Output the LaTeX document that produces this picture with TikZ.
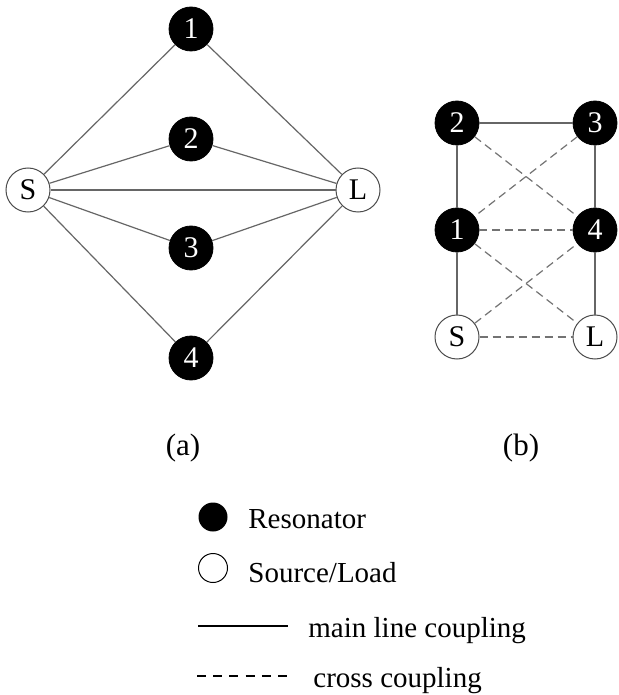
\documentclass[tikz,border=0pt]{standalone}
\usepackage{fontspec}
\setmainfont{Liberation Serif}
\usetikzlibrary{positioning}

\begin{document}
\begin{tikzpicture}[x=0.5pt, y=-0.5pt]
\tikzstyle{res} = [circle, fill=black, draw=black, text=white, minimum size=22pt,
  inner sep=0pt, font=\fontsize{15}{18}\selectfont]
\tikzstyle{port} = [circle, fill=white, draw=black!70, line width=0.5pt, minimum size=22pt,
  inner sep=0pt, font=\fontsize{15}{18}\selectfont]
\tikzstyle{main} = [draw=black!60, line width=0.6pt]
\tikzstyle{cross} = [draw=black!55, line width=0.6pt, dash pattern=on 4pt off 2.5pt]
\tikzstyle{caption} = [anchor=base, inner sep=0pt, font=\fontsize{15.5}{18}\selectfont]
\tikzstyle{legend} = [anchor=base west, inner sep=0pt, font=\fontsize{14.5}{17}\selectfont]

\fill[white] (0,0) rectangle (618,695);
\useasboundingbox (0,0) rectangle (618,695);

% (a) parallel paths
\node[port] (aS) at (28,190) {S};
\node[port] (aL) at (358,190) {L};
\node[res] (a1) at (191,29) {1};
\node[res] (a2) at (191,139) {2};
\node[res] (a3) at (191,248) {3};
\node[res] (a4) at (191,358) {4};
\foreach \n in {a1,a2,a3,a4}
  \draw[main] (aS) -- (\n) -- (aL);
\draw[main] (aS) -- (aL);
\node[caption] (capa) at (183,455) {(a)};

% (b) folded topology
\node[res] (b2) at (457,123) {2};
\node[res] (b3) at (595,123) {3};
\node[res] (b1) at (457,230) {1};
\node[res] (b4) at (595,230) {4};
\node[port] (bS) at (457,337) {S};
\node[port] (bL) at (595,337) {L};
\draw[main] (bS) -- (b1) -- (b2) -- (b3) -- (b4) -- (bL);
\draw[cross] (b2) -- (b4);
\draw[cross] (b3) -- (b1);
\draw[cross] (b1) -- (b4);
\draw[cross] (b1) -- (bL);
\draw[cross] (bS) -- (b4);
\draw[cross] (bS) -- (bL);
\node[caption] (capb) at (521,455) {(b)};

% legend
\node[circle, fill=black, minimum size=14.5pt, inner sep=0pt] (kres) at (213,517) {};
\node[legend] (tres) at (248,528) {Resonator};
\node[circle, draw=black, line width=0.5pt, fill=white, minimum size=14.5pt,
  inner sep=0pt] (kport) at (213,568) {};
\node[legend] (tport) at (248,582) {Source/Load};
\coordinate (km1) at (198,626);
\coordinate (km2) at (288,626);
\draw[line width=1.2pt] (km1) -- (km2);
\node[legend] (tmain) at (308,637) {main line coupling};
\coordinate (kc1) at (197,676);
\coordinate (kc2) at (287,676);
\draw[line width=1.2pt, dash pattern=on 4.5pt off 3.6pt] (kc1) -- (kc2);
\node[legend] (tcross) at (313,687) {cross coupling};
\end{tikzpicture}
\end{document}
